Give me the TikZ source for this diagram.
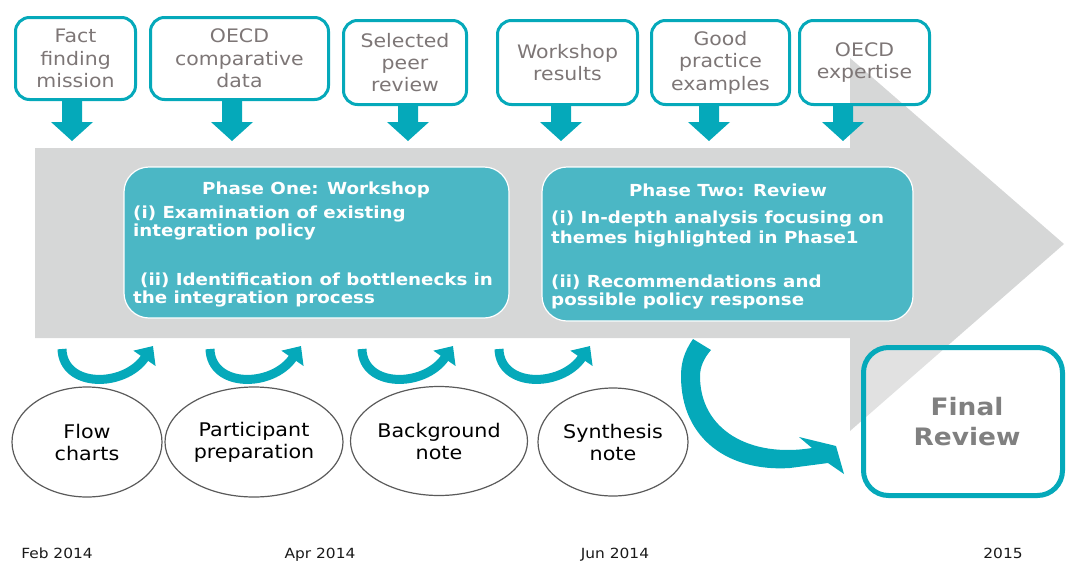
\documentclass[tikz,border=0pt]{standalone}
\usepackage{fontspec}
\setmainfont{DejaVu Sans}[FakeStretch=1.1]
\usetikzlibrary{shapes.geometric,arrows.meta}
\definecolor{oteal}{RGB}{5,169,186}
\definecolor{phteal}{RGB}{75,183,197}
\definecolor{bigarrow}{RGB}{214,215,215}
\definecolor{tgray}{RGB}{125,118,118}
\definecolor{ellline}{RGB}{90,90,90}
\definecolor{frgray}{RGB}{128,128,128}
\tikzset{
  topbox/.style={draw=oteal, line width=3pt, rounded corners=14pt, text=tgray, align=center,
    font=\fontsize{18.6}{22.4}\selectfont, inner sep=0pt},
  downarr/.style={fill=oteal},
  phasebox/.style={fill=phteal, draw=white, line width=1.2pt, rounded corners=25pt, inner sep=0pt},
  phtext/.style={text=white, font=\bfseries\fontsize{16.6}{18}\selectfont, inner sep=0pt},
  ellnode/.style={ellipse, draw=ellline, line width=1.2pt, inner sep=0pt, align=center,
    font=\fontsize{18.8}{22}\selectfont, text=black},
  uarrow/.style={draw=oteal, line width=9pt, -{Triangle[length=15pt,width=26pt]}},
  datetext/.style={font=\fontsize{14}{16}\selectfont, text=black!90, anchor=base, inner sep=0pt},
}
\begin{document}
\begin{tikzpicture}[x=1pt,y=-1pt]
\useasboundingbox (0,0) rectangle (1066,563);

% big grey arrow
\fill[bigarrow] (35,148) -- (850,148) -- (850,58) -- (1064,244) -- (850,431) -- (850,338) -- (35,338) -- cycle;

% top boxes
\node[topbox, minimum width=120pt, minimum height=82pt] (b1) at (75.5,58.5) {Fact\\finding\\mission};
\node[topbox, minimum width=178pt, minimum height=82pt] (b2) at (239.5,58.5) {OECD\\comparative\\data};
\node[topbox, minimum width=123pt, minimum height=84pt] (b3) at (405,62.5) {Selected\\peer\\review};
\node[topbox, minimum width=140pt, minimum height=84pt] (b4) at (567.5,62.5) {Workshop\\results};
\node[topbox, minimum width=138pt, minimum height=84pt] (b5) at (720.5,62.5) {Good\\practice\\examples};
\node[topbox, minimum width=130pt, minimum height=84pt] (b6) at (864.5,62.5) {OECD\\expertise};

% down block arrows
\foreach \x/\y in {72/101, 232/101, 408/105, 561/105, 709/105, 843/105}{
  \fill[downarr] (\x-10,\y) -- (\x+10,\y) -- (\x+10,122) -- (\x+21,122) -- (\x,141) -- (\x-21,122) -- (\x-10,122) -- cycle;
}

% phase boxes
\node[phasebox, minimum width=385pt, minimum height=151pt] (ph1) at (316.5,242.5) {};
\node[phtext, anchor=base] (ph1t) at (316,194) {Phase One: Workshop};
\node[phtext, anchor=base west] (ph1a) at (133,218) {(i) Examination of existing};
\node[phtext, anchor=base west] (ph1b) at (133,236) {integration policy};
\node[phtext, anchor=base west] (ph1c) at (140,285) {(ii) Identification of bottlenecks in};
\node[phtext, anchor=base west] (ph1d) at (133,303) {the integration process};

\node[phasebox, minimum width=371pt, minimum height=154pt] (ph2) at (727.5,244) {};
\node[phtext, anchor=base] (ph2t) at (728,196) {Phase Two: Review};
\node[phtext, anchor=base west] (ph2a) at (551,223) {(i) In-depth analysis focusing on};
\node[phtext, anchor=base west] (ph2b) at (551,243) {themes highlighted in Phase1};
\node[phtext, anchor=base west] (ph2c) at (551,287) {(ii) Recommendations and};
\node[phtext, anchor=base west] (ph2d) at (551,305) {possible policy response};

% small U arrows
\foreach \x in {62,210,362,499}{
  \draw[uarrow] (\x,349) .. controls (\x+1,388) and (\x+62,388) .. (\x+91,346);
}

% ellipses
\node[ellnode, minimum width=150pt, minimum height=110pt] (e1) at (87,442) {Flow\\charts};
\node[ellnode, minimum width=178pt, minimum height=110pt] (e2) at (254,442) {Participant\\preparation};
\node[ellnode, minimum width=177pt, minimum height=109pt] (e3) at (439,441) {Background\\note};
\node[ellnode, minimum width=150pt, minimum height=108pt] (e4) at (613,442) {Synthesis\\note};

% big curved arrow
\fill[oteal] (693,339) .. controls (684,352) and (681,363) .. (681,376)
  .. controls (681,440) and (730,472) .. (790,468) -- (828,463) -- (844,474) -- (836,446)
  -- (799,437) -- (812,448) .. controls (750,458) and (700,430) .. (700,376)
  .. controls (700,367) and (704,358) .. (711,350) -- cycle;

% final review
\node[draw=oteal, line width=5pt, rounded corners=25pt, fill=white, fill opacity=0.27, text opacity=1,
  minimum width=199pt, minimum height=148pt, inner sep=0pt, align=center, text=frgray,
  font=\bfseries\fontsize{24}{30}\selectfont] (fr) at (963,421.5) {\hspace*{8pt}Final\\\hspace*{8pt}Review};

% dates
\node[datetext] (d1) at (57,558) {Feb 2014};
\node[datetext] (d2) at (320,558) {Apr 2014};
\node[datetext] (d3) at (615,558) {Jun 2014};
\node[datetext] (d4) at (1003,558) {2015};
\end{tikzpicture}
\end{document}
